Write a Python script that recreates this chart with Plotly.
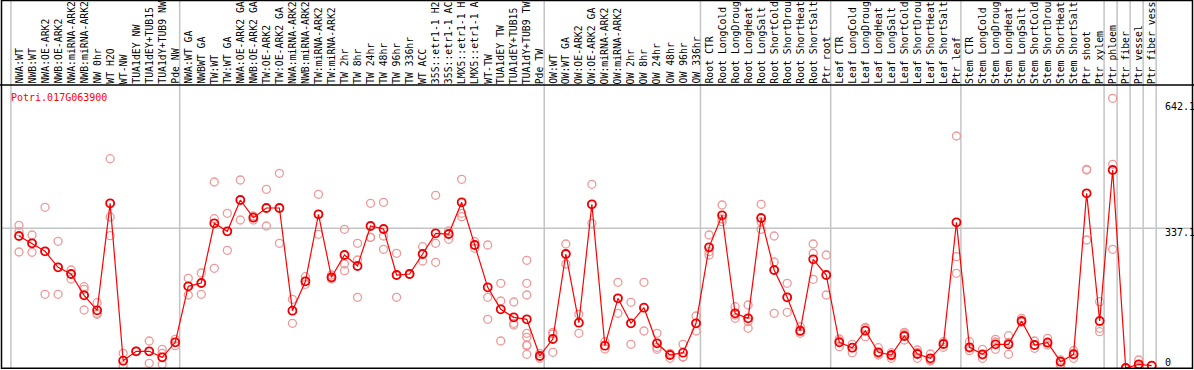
import plotly.graph_objects as go

# ---------------- data ----------------
gene = "Potri.017G063900"

categories = [
    "NWA:WT", "NWB:WT", "NWA:OE-ARK2", "NWB:OE-ARK2", "NWA:miRNA-ARK2", "NWB:miRNA-ARK2",
    "NW 0hr", "WT H2O", "WT-NW", "TUA1dEY NW", "TUA1dEY+TUB15 NW", "TUA1dY+TUB9 NW", "Pde NW",
    "NWA:WT GA", "NWBWT GA", "TW:WT", "TW:WT GA", "NWA:OE-ARK2 GA", "NWB:OE-ARK2 GA",
    "TW:OE-ARK2", "TW:OE-ARK2 GA", "NWA:miRNA-ARK2 GA", "NWB:miRNA-ARK2 GA", "TW:miRNA-ARK2",
    "TW:miRNA-ARK2 GA", "TW 2hr", "TW 8hr", "TW 24hr", "TW 48hr", "TW 96hr", "TW 336hr",
    "WT ACC", "35S::etr1-1 H2O", "35S::etr1-1 ACC", "LMX5::etr1-1 H2O", "LMX5::etr1-1 ACC",
    "WT-TW", "TUA1dEY TW", "TUA1dEY+TUB15 TW", "TUA1dY+TUB9 TW", "Pde TW",
    "OW:WT", "OW:WT GA", "OW:OE-ARK2", "OW:OE-ARK2 GA", "OW:miRNA-ARK2", "OW:miRNA-ARK2 GA",
    "OW 2hr", "OW 8hr", "OW 24hr", "OW 48hr", "OW 96hr", "OW 336hr",
    "Root CTR", "Root LongCold", "Root LongDrought", "Root LongHeat", "Root LongSalt",
    "Root ShortCold", "Root ShortDrought", "Root ShortHeat", "Root ShortSalt", "Ptr root",
    "Leaf CTR", "Leaf LongCold", "Leaf LongDrought", "Leaf LongHeat", "Leaf LongSalt",
    "Leaf ShortCold", "Leaf ShortDrought", "Leaf ShortHeat", "Leaf ShortSalt", "Ptr leaf",
    "Stem CTR", "Stem LongCold", "Stem LongDrought", "Stem LongHeat", "Stem LongSalt",
    "Stem ShortCold", "Stem ShortDrought", "Stem ShortHeat", "Stem ShortSalt",
    "Ptr shoot", "Ptr xylem", "Ptr phloem", "Ptr fiber", "Ptr vessel", "Ptr fiber vessel",
]

group_sizes = [13, 28, 12, 10, 10, 11, 1, 1, 1, 1]

means = [
    318.5, 300.9, 281.6, 243.0, 226.8, 175.4, 139.2, 397.4, 17.6, 40.3,
    40.3, 25.8, 62.0, 197.1, 205.1, 349.2, 329.9, 405.4, 362.7, 386.1,
    386.1, 138.3, 209.2, 370.9, 218.9, 272.7, 246.1, 342.6, 335.4, 224.4,
    226.8, 275.1, 325.0, 323.3, 399.8, 296.8, 194.7, 141.6, 122.3, 117.5,
    29.0, 70.0, 275.1, 109.3, 395.0, 53.8, 168.2, 107.9, 145.5, 59.6,
    31.4, 36.9, 107.9, 291.2, 368.5, 132.0, 119.9, 362.0, 236.5, 170.6,
    90.0, 262.3, 224.4, 62.0, 49.0, 90.0, 37.9, 31.4, 77.2, 33.8,
    23.4, 57.9, 351.6, 49.9, 33.1, 57.2, 57.2, 113.4, 55.5, 61.0,
    15.2, 33.1, 421.6, 113.4, 477.8, 0.0, 8.9, 5.5,
]

replicates = [
    [344.3, 328.9, 279.9], [320.9, 300.9, 279.2], [387.8, 281.6, 177.8], [305.7, 243.0, 177.8],
    [236.5, 226.8, 214.8], [196.2, 189.9, 140.0], [157.6, 132.0, 129.6], [505.0, 364.4, 319.2],
    [35.5, 17.6, 5.5], [40.3, 40.3, 40.3], [65.2, 40.3, 11.3], [45.1, 35.5, 8.9],
    [69.3, 62.0, 53.8], [216.5, 197.1, 176.1], [229.2, 205.1, 177.8], [448.8, 360.3, 240.6],
    [373.3, 329.9, 284.0], [453.6, 405.4, 357.1], [366.8, 364.4, 357.1], [431.2, 386.1, 342.6],
    [469.8, 386.1, 300.9], [165.8, 138.3, 107.9], [220.3, 209.2, 202.0], [419.1, 370.9, 322.6],
    [224.4, 216.5, 214.8], [334.7, 251.0, 234.8], [300.9, 260.6, 170.6], [397.4, 315.4, 315.0],
    [399.8, 318.5, 286.4], [276.8, 224.4, 170.6], [226.8, 226.8, 226.8], [292.7, 275.1, 258.2],
    [416.7, 300.9, 255.1], [331.1, 323.3, 310.6], [455.3, 373.3, 365.1], [304.8, 296.8, 288.8],
    [296.8, 170.6, 117.5], [204.4, 161.7, 65.2], [159.3, 107.9, 103.8],
    [259.9, 204.4, 176.1, 83.7, 74.1, 55.5, 53.8, 33.1],
    [35.5, 29.0, 23.4], [86.1, 82.0, 37.9], [299.2, 275.1, 251.0], [129.6, 109.3, 83.7],
    [443.3, 395.0, 349.2], [63.5, 53.8, 45.8], [206.8, 168.2, 132.0], [158.5, 107.9, 57.2],
    [206.8, 145.5, 89.3], [83.7, 49.9, 45.1], [35.5, 31.4, 23.4], [57.2, 27.3, 25.8],
    [125.5, 107.9, 89.3], [320.9, 280.6, 272.7], [393.3, 359.5, 353.0], [147.9, 127.9, 119.9],
    [152.0, 111.7, 95.8], [395.0, 353.0, 334.7], [318.5, 255.8, 132.0], [204.4, 170.6, 134.4],
    [99.7, 87.6, 83.7], [299.2, 276.8, 214.0], [272.7, 224.4, 176.1], [70.0, 65.2, 51.4],
    [57.2, 49.0, 36.9], [98.2, 95.8, 75.5], [49.0, 35.5, 31.4], [36.9, 29.0, 23.4],
    [86.1, 82.0, 67.6], [43.4, 37.9, 23.4], [33.8, 19.3, 16.9], [63.5, 57.9, 49.9],
    [559.8, 268.6, 228.5], [63.5, 47.5, 41.7], [45.1, 31.4, 23.4], [69.3, 62.7, 45.1],
    [77.9, 62.0, 33.1], [119.9, 111.7, 110.3], [65.2, 55.5, 47.5], [71.7, 62.7, 55.5],
    [19.3, 14.5, 7.2], [41.7, 35.5, 23.4], [479.5, 477.8, 308.9], [160.0, 95.8, 87.6],
    [650.8, 491.5, 286.4], [0.0, 0.0, 0.0], [19.3, 4.8, 2.4], [5.5, 5.5, 5.5],
]

y_tick_values = [642.1, 337.1, 0]
y_tick_labels = ["642.1", "337.1", "0"]

LABEL_CHARS = 14  # the chart shows category names cut to 14 characters

# ---------------- layout constants ----------------
W, H = 1194, 370
PX0, STEP = 19.0, 13.02          # pixel of first category, pixels per category
PLOT_TOP, PLOT_BOT = 85, 368     # plot area in pixels
UNITS_PER_PX = 2.413
FONT = "DejaVu Sans Mono"

def py(p):
    return 1 - p / H

def px(p):
    return p / W

x0 = -PX0 / STEP
x1 = x0 + W / STEP
ymax = (PLOT_BOT - PLOT_TOP) * UNITS_PER_PX

idx = list(range(len(categories)))
rep_x, rep_y = [], []
for i, reps in enumerate(replicates):
    for v in reps:
        rep_x.append(i)
        rep_y.append(v)

fig = go.Figure()
fig.add_trace(go.Scatter(
    x=rep_x, y=rep_y, mode="markers",
    marker=dict(symbol="circle-open", size=8, color="#ee9898", line=dict(width=1.3)),
    hoverinfo="skip", showlegend=False,
))
fig.add_trace(go.Scatter(
    x=idx, y=means, mode="lines+markers",
    line=dict(color="#ff0000", width=1.2),
    marker=dict(symbol="circle-open", size=8, color="#f00000", line=dict(width=1.8)),
    showlegend=False,
))

shapes = []
# separators
sep_positions = [-0.62]
acc = 0
for g in group_sizes:
    acc += g
    sep_positions.append(acc - 1 + 0.34)
for s in sep_positions:
    shapes.append(dict(type="line", xref="x", yref="paper", x0=s, x1=s, y0=py(PLOT_BOT), y1=1,
                       line=dict(color="#c4c4c4", width=1.5), layer="below"))
# mid gridline
shapes.append(dict(type="line", xref="paper", yref="y", x0=px(1), x1=px(1193), y0=337.1, y1=337.1,
                   line=dict(color="#c4c4c4", width=1.5), layer="below"))
# frame
shapes.append(dict(type="rect", xref="paper", yref="paper", x0=px(1.5), x1=px(1192.5),
                   y0=py(368.3), y1=py(0.5), line=dict(color="black", width=1.5)))
shapes.append(dict(type="line", xref="paper", yref="paper", x0=0, x1=1,
                   y0=py(85), y1=py(85), line=dict(color="black", width=1.5)))

annotations = []
for i, c in enumerate(categories):
    annotations.append(dict(
        x=i, xref="x", y=py(84), yref="paper", text=c[:LABEL_CHARS].rstrip(), textangle=-90,
        showarrow=False, xanchor="center", yanchor="bottom",
        font=dict(family=FONT, size=9.8, color="black"), borderpad=0, borderwidth=0,
    ))
annotations.append(dict(
    x=px(9), y=py(97), xref="paper", yref="paper", text=gene, showarrow=False,
    xanchor="left", yanchor="middle", font=dict(family=FONT, size=10, color="#ff0000"),
))
label_px = [106.7, 232.3, 362.0]
for t, p in zip(y_tick_labels, label_px):
    annotations.append(dict(
        x=px(1163), y=py(p), xref="paper", yref="paper", text=t, showarrow=False,
        xanchor="left", yanchor="middle", font=dict(family=FONT, size=10, color="black"),
    ))

fig.update_layout(
    width=W, height=H, margin=dict(l=0, r=0, t=0, b=0),
    paper_bgcolor="white", plot_bgcolor="white",
    xaxis=dict(range=[x0, x1], visible=False, domain=[0, 1], fixedrange=True),
    yaxis=dict(range=[0, ymax], visible=False, domain=[py(PLOT_BOT), py(PLOT_TOP)], fixedrange=True),
    shapes=shapes, annotations=annotations, showlegend=False,
)

fig.write_html(
    "out.html",
    config={"displayModeBar": False},
    post_script="document.body.style.margin='0';document.body.style.overflow='hidden';",
)
